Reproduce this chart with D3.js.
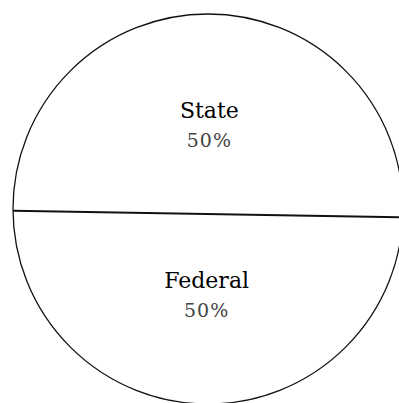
<!DOCTYPE html>
<html lang="en">
<head>
  <meta charset="UTF-8">
  <title>State vs Federal</title>
  <style>
    body { margin: 0; background: #fff; }
    svg { display: block; }
    .name { font-family: 'DejaVu Serif', serif; font-size: 22px; fill: #000; }
    .pct { font-family: 'DejaVu Serif', serif; font-size: 19px; fill: #444; letter-spacing: 1px; }
  </style>
</head>
<body>
  <svg width="399" height="403"></svg>
  <script src="https://d3js.org/d3.v7.min.js"></script>
  <script>
    // Data
    const categories = ['State', 'Federal'];
    const shares = [50, 50];

    // Layout
    const width = 399, height = 403;
    const cx = 208, cy = 209, radius = 195;
    const tilt = 0.0164;     // the divider sits very slightly off horizontal
    const dividerShift = 5;  // hand-drawn divider runs a little below centre

    const svg = d3.select('svg');
    const g = svg.append('g').attr('transform', `translate(${cx},${cy})`);

    const data = categories.map((c, i) => ({ name: c, value: shares[i] }));

    const pie = d3.pie()
      .value(d => d.value)
      .sort(null)
      .startAngle(-Math.PI / 2 + tilt)
      .endAngle(3 * Math.PI / 2 + tilt);

    const arcs = pie(data);

    const arc = d3.arc().innerRadius(0).outerRadius(radius);
    const labelArc = d3.arc().innerRadius(85).outerRadius(85);

    // Slices (white, outline drawn separately)
    g.selectAll('path.slice')
      .data(arcs)
      .enter().append('path')
      .attr('class', 'slice')
      .attr('d', arc)
      .style('fill', '#fff')
      .style('stroke', 'none');

    // Outer outline
    g.append('circle')
      .attr('r', radius)
      .style('fill', 'none')
      .style('stroke', '#111')
      .style('stroke-width', 1.3);

    // Divider: chord along the slice boundary direction
    const a = arcs[0].endAngle;
    const ux = Math.sin(a), uy = -Math.cos(a);   // boundary direction
    const nx = -uy, ny = ux;                     // normal (points down)
    const half = Math.sqrt(radius * radius - dividerShift * dividerShift);
    g.append('line')
      .attr('x1', nx * dividerShift - ux * half)
      .attr('y1', ny * dividerShift - uy * half)
      .attr('x2', nx * dividerShift + ux * half)
      .attr('y2', ny * dividerShift + uy * half)
      .style('stroke', '#111')
      .style('stroke-width', 2);

    // Labels
    const labels = g.selectAll('g.label')
      .data(arcs)
      .enter().append('g')
      .attr('class', 'label')
      .attr('transform', d => {
        const c = labelArc.centroid(d);
        return `translate(${c[0]},${c[1]})`;
      });

    labels.append('text')
      .attr('class', 'name')
      .attr('text-anchor', 'middle')
      .attr('y', -6)
      .text(d => d.data.name);

    labels.append('text')
      .attr('class', 'pct')
      .attr('text-anchor', 'middle')
      .attr('y', 23)
      .text(d => d.data.value + '%');
  </script>
</body>
</html>
